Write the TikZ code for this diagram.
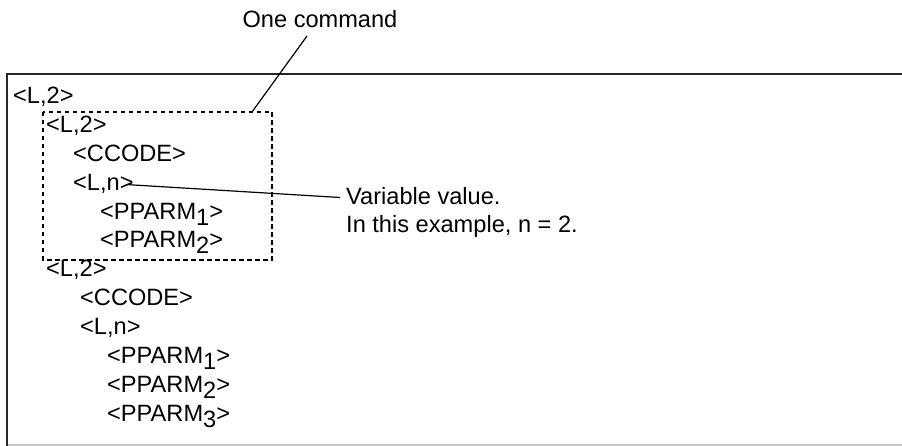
\documentclass[tikz,border=0pt]{standalone}
\usepackage{fontspec}
\setmainfont{Liberation Sans}
\newcommand{\sbs}[1]{\raisebox{-6pt}{#1}}
\begin{document}
\begin{tikzpicture}[x=1pt,y=-1pt,
  txt/.style={anchor=base west,inner sep=0pt,font=\fontsize{23.6}{28}\selectfont},
  frameline/.style={line width=2pt,draw=black!85},
  lead/.style={line width=1.2pt},
  dbox/.style={draw,line width=1.3pt,dash pattern=on 4.5pt off 3.5pt}]
\useasboundingbox (0,0) rectangle (902,446);
% frame
\draw[frameline] (902,74.3) -- (7,74.3) -- (7,446);
\draw[line width=1.5pt,draw=black!22] (8,445) -- (902,445);
% texts
\node[txt] (a0) at (13,103.5) {<L,2>};
\node[txt] (a1) at (46,132.4) {<L,2>};
\node[txt] (a2) at (73,161.3) {<CCODE>};
\node[txt] (a3) at (73,190.2) {<L,n>};
\node[txt] (a4) at (100,219.1) {<PPARM\sbs{1}>};
\node[txt] (a5) at (100,248) {<PPARM\sbs{2}>};
\node[txt] (b0) at (46,276.9) {<L,2>};
\node[txt] (b1) at (80,305.8) {<CCODE>};
\node[txt] (b2) at (80,334.7) {<L,n>};
\node[txt] (b3) at (107,363.6) {<PPARM\sbs{1}>};
\node[txt] (b4) at (107,392.5) {<PPARM\sbs{2}>};
\node[txt] (b5) at (107,421.4) {<PPARM\sbs{3}>};
% dashed box
\draw[dbox] (43,112) rectangle (272,260);
\coordinate (boxtop) at (252,112);
% labels
\node[txt,anchor=base] (oc) at (320,28) {One command};
\coordinate (octail) at (307,36);
\draw[lead] (octail) -- (boxtop);
\node[txt] (v1) at (346,205) {Variable value.};
\node[txt] (v2) at (346,233) {In this example, n = 2.};
\coordinate (vtail) at (340,197.5);
\draw[lead] ([xshift=-5pt,yshift=5.5pt]a3.base east) -- (vtail);
\end{tikzpicture}
\end{document}
